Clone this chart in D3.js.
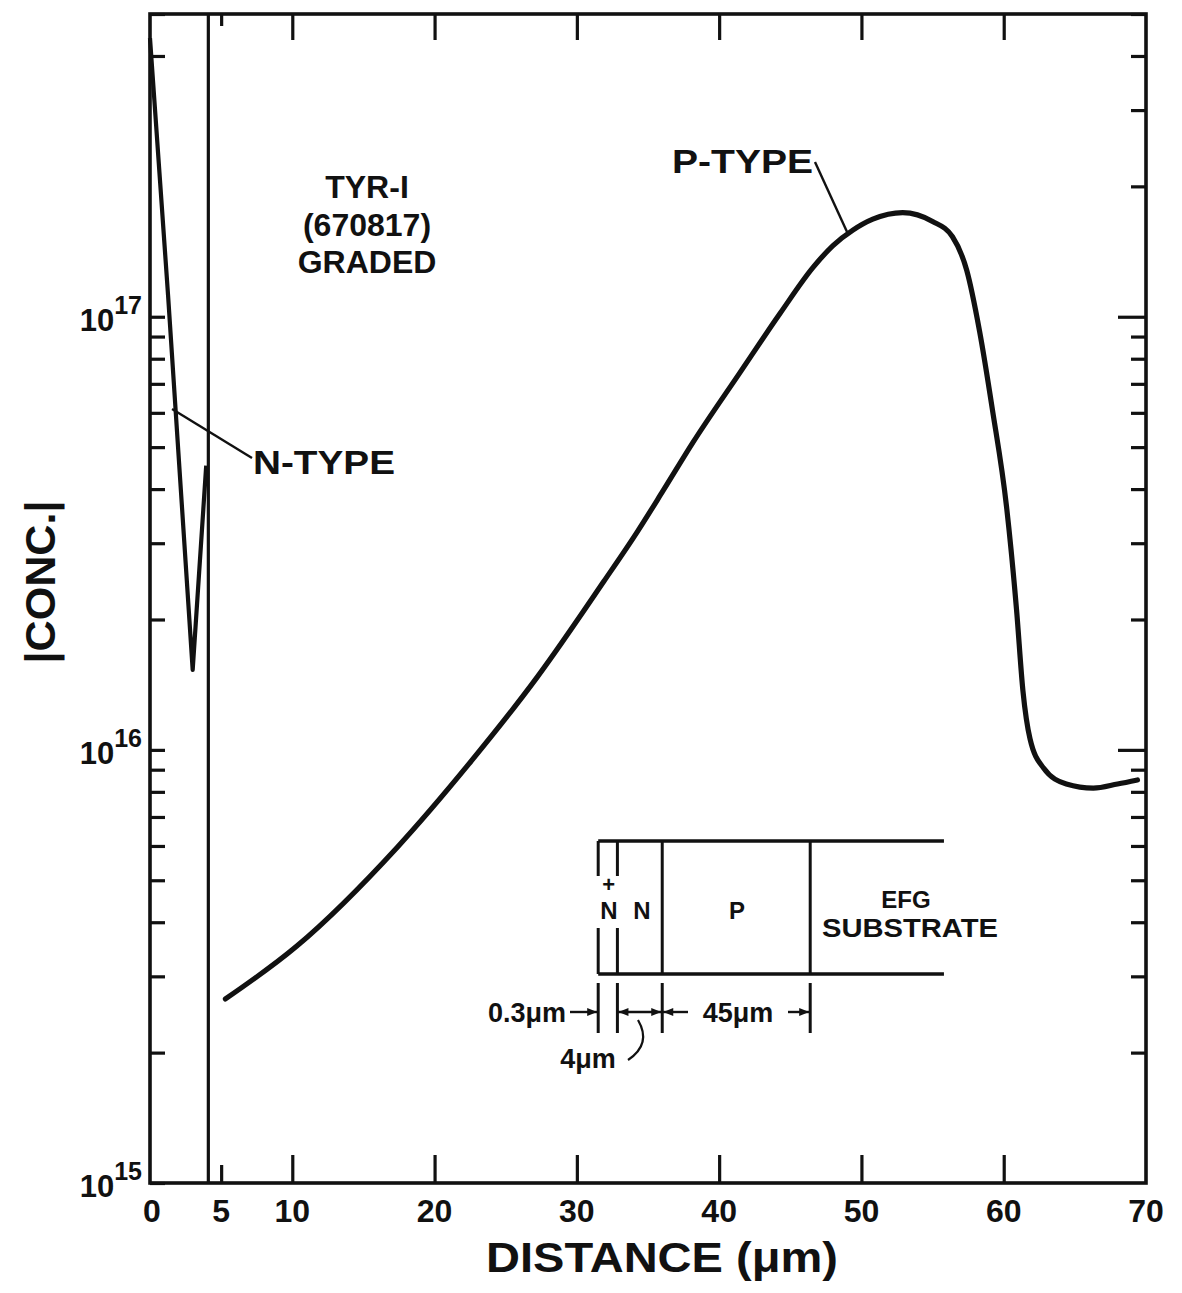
<!DOCTYPE html>
<html>
<head>
<meta charset="utf-8">
<script src="https://cdn.jsdelivr.net/npm/d3@7"></script>
<style>
  html, body { margin: 0; padding: 0; background: #ffffff; }
  svg { display: block; }
  text { font-family: "Liberation Sans", Arial, sans-serif; font-weight: bold; fill: #111; }
</style>
</head>
<body>
<svg id="chart" width="1182" height="1293"></svg>
<script>
// ---------------- data ----------------
const xDomain = [0, 70];
const yDomain = [1e15, 5e17];

// N-type region (µm, |conc| cm^-3)
const nTypeX    = [0, 1.27, 3.0, 3.95];
const nTypeConc = [4.4e17, 1.12e17, 1.53e16, 4.53e16];

// P-type region
const pTypeX = [5.3, 10.3, 17.4, 22.4, 27.2, 31.9, 34.2, 36.05, 38.15, 41.45, 44.3, 46.6,
                48.0, 49.4, 50.8, 52.9, 55.0, 56.4, 57.4, 58.3, 59.2, 60.2, 60.9, 61.35, 61.85,
                62.8, 64.4, 66.3, 68.0, 69.4];
const pTypeConc = [2.66e15, 3.52e15, 5.97e15, 9.27e15, 1.47e16, 2.45e16, 3.17e16, 3.96e16,
                   5.12e16, 7.42e16, 1.02e17, 1.30e17, 1.46e17, 1.585e17, 1.68e17, 1.74e17,
                   1.66e17, 1.53e17, 1.28e17, 9.27e16, 6.12e16, 3.64e16, 2.11e16, 1.37e16,
                   1.06e16, 9.08e15, 8.34e15, 8.16e15, 8.34e15, 8.52e15];

const junctionX = 4.1;

const xMajorTicks  = [0, 10, 20, 30, 40, 50, 60, 70];
const xMinorTicks  = [5];
const xTickLabels  = ["0", "10", "20", "30", "40", "50", "60", "70"];
const yDecadeExps  = [15, 16, 17];
const yMinorMults  = [2, 3, 4, 5, 6, 7, 8, 9];

const sampleTitle  = ["TYR-I", "(670817)", "GRADED"];
const xTitle = "DISTANCE (\u03bcm)";
const yTitle = "|CONC.|";

// ---------------- layout ----------------
const svg = d3.select("#chart");
const L = 150, R = 1146, T = 14, B = 1183;

const x = d3.scaleLinear().domain(xDomain).range([L, R]);
const y = d3.scaleLog().domain(yDomain).range([B, T]);

const majorY = yDecadeExps.map(e => Math.pow(10, e));
const minorY = [];
yDecadeExps.forEach(e => yMinorMults.forEach(m => {
  const v = m * Math.pow(10, e);
  if (v <= yDomain[1] + 1) minorY.push(v);
}));

function cleanAxis(g) {
  g.select(".domain").remove();
  g.selectAll(".tick line").attr("stroke", "#111").attr("stroke-width", 3.2);
}

// bottom axis (ticks pointing inward)
svg.append("g").attr("transform", `translate(0,${B})`)
  .call(d3.axisBottom(x).tickValues(xMajorTicks.filter(v => v > 0 && v < 70))
        .tickSize(-28).tickFormat(""))
  .call(cleanAxis);
svg.append("g").attr("transform", `translate(0,${B})`)
  .call(d3.axisBottom(x).tickValues(xMinorTicks).tickSize(-18).tickFormat(""))
  .call(cleanAxis);

// bottom labels
const allXLabels = xMajorTicks.map((v, i) => ({ v, t: xTickLabels[i] }))
  .concat(xMinorTicks.map(v => ({ v, t: String(v) })));
svg.append("g").selectAll("text").data(allXLabels).join("text")
  .attr("x", d => x(d.v) + (d.v === 0 ? 2 : 0))
  .attr("y", 1222)
  .attr("text-anchor", "middle")
  .attr("font-size", 32)
  .text(d => d.t);

// top axis
svg.append("g").attr("transform", `translate(0,${T})`)
  .call(d3.axisTop(x).tickValues(xMajorTicks.filter(v => v > 0 && v < 70))
        .tickSize(-26).tickFormat(""))
  .call(cleanAxis);
svg.append("g").attr("transform", `translate(0,${T})`)
  .call(d3.axisTop(x).tickValues(xMinorTicks).tickSize(-12).tickFormat(""))
  .call(cleanAxis);

// left axis ticks (inward)
svg.append("g").attr("transform", `translate(${L},0)`)
  .call(d3.axisLeft(y).tickValues(majorY.concat(minorY.filter(v => v < 1.5e17 || v > 3.5e17)))
        .tickSize(-15).tickFormat(""))
  .call(cleanAxis);

// right axis ticks (inward)
svg.append("g").attr("transform", `translate(${R},0)`)
  .call(d3.axisRight(y).tickValues(majorY.filter(v => v > yDomain[0])).tickSize(-28).tickFormat(""))
  .call(cleanAxis);
svg.append("g").attr("transform", `translate(${R},0)`)
  .call(d3.axisRight(y).tickValues(minorY).tickSize(-15).tickFormat(""))
  .call(cleanAxis);

// left labels 10^n
const yl = svg.append("g").selectAll("text").data(yDecadeExps).join("text")
  .attr("x", 142)
  .attr("y", e => y(Math.pow(10, e)) + 14)
  .attr("text-anchor", "end");
yl.append("tspan").attr("font-size", 31).text("10");
yl.append("tspan").attr("font-size", 25).attr("dy", -17).text(e => String(e));

// frame
svg.append("rect").attr("x", L).attr("y", T).attr("width", R - L).attr("height", B - T)
  .attr("fill", "none").attr("stroke", "#111").attr("stroke-width", 3.6);

// junction line
svg.append("line")
  .attr("x1", x(junctionX)).attr("x2", x(junctionX))
  .attr("y1", T).attr("y2", B)
  .attr("stroke", "#111").attr("stroke-width", 3.2);

// curves
const nData = nTypeX.map((v, i) => [v, nTypeConc[i]]);
const pData = pTypeX.map((v, i) => [v, pTypeConc[i]]);

svg.append("path").datum(nData)
  .attr("d", d3.line().x(d => x(d[0])).y(d => y(d[1])).curve(d3.curveLinear))
  .attr("fill", "none").attr("stroke", "#111").attr("stroke-width", 4.2)
  .attr("stroke-linejoin", "round");

svg.append("path").datum(pData)
  .attr("d", d3.line().x(d => x(d[0])).y(d => y(d[1])).curve(d3.curveMonotoneX))
  .attr("fill", "none").attr("stroke", "#111").attr("stroke-width", 5.2)
  .attr("stroke-linecap", "round");

// sample label
svg.append("g").selectAll("text").data(sampleTitle).join("text")
  .attr("x", 367)
  .attr("y", (d, i) => 198 + i * 37.5)
  .attr("text-anchor", "middle")
  .attr("font-size", 32)
  .text(d => d);

// P-TYPE label + leader
svg.append("text").attr("x", 672).attr("y", 173).attr("font-size", 34)
  .attr("textLength", 141).attr("lengthAdjust", "spacingAndGlyphs").text("P-TYPE");
svg.append("line").attr("x1", 815).attr("y1", 162)
  .attr("x2", x(49.0)).attr("y2", y(1.55e17) - 2)
  .attr("stroke", "#111").attr("stroke-width", 2.4);

// N-TYPE label + leader
svg.append("text").attr("x", 253).attr("y", 474).attr("font-size", 34)
  .attr("textLength", 142).attr("lengthAdjust", "spacingAndGlyphs").text("N-TYPE");
svg.append("line").attr("x1", x(1.55)).attr("y1", 409)
  .attr("x2", 252).attr("y2", 458)
  .attr("stroke", "#111").attr("stroke-width", 2.4);

// axis titles
svg.append("text").attr("x", 662).attr("y", 1272).attr("text-anchor", "middle")
  .attr("font-size", 42).attr("textLength", 352).attr("lengthAdjust", "spacingAndGlyphs")
  .text(xTitle);
svg.append("text").attr("transform", "translate(55,582) rotate(-90)")
  .attr("text-anchor", "middle").attr("font-size", 42)
  .attr("textLength", 163).attr("lengthAdjust", "spacingAndGlyphs")
  .text(yTitle);

// ---------------- inset: device cross-section ----------------
const ins = svg.append("g");
const bx0 = x(31.5), bx1 = x(32.85), bx2 = x(36.0), bx3 = x(46.4), bx4 = x(55.8);
const by0 = 841, by1 = 974;
const stroke = (sel, w) => sel.attr("stroke", "#111").attr("stroke-width", w).attr("fill", "none");

stroke(ins.append("line").attr("x1", bx0).attr("x2", bx4).attr("y1", by0).attr("y2", by0), 3.6);
stroke(ins.append("line").attr("x1", bx0).attr("x2", bx4).attr("y1", by1).attr("y2", by1), 3.6);
[bx0, bx1].forEach(xx => {
  stroke(ins.append("line").attr("x1", xx).attr("x2", xx).attr("y1", by0).attr("y2", 876), 3);
  stroke(ins.append("line").attr("x1", xx).attr("x2", xx).attr("y1", 928).attr("y2", by1), 3);
});
[bx2, bx3].forEach(xx => {
  stroke(ins.append("line").attr("x1", xx).attr("x2", xx).attr("y1", by0).attr("y2", by1), 3);
});

ins.append("text").attr("x", (bx0 + bx1) / 2 + 1).attr("y", 919).attr("text-anchor", "middle")
  .attr("font-size", 24).text("N");
ins.append("text").attr("x", (bx0 + bx1) / 2 + 1).attr("y", 892).attr("text-anchor", "middle")
  .attr("font-size", 22).text("+");
ins.append("text").attr("x", 642).attr("y", 919).attr("text-anchor", "middle")
  .attr("font-size", 24).text("N");
ins.append("text").attr("x", 737).attr("y", 919).attr("text-anchor", "middle")
  .attr("font-size", 24).text("P");
ins.append("text").attr("x", 906).attr("y", 908).attr("text-anchor", "middle")
  .attr("font-size", 24).text("EFG");
ins.append("text").attr("x", 910).attr("y", 937).attr("text-anchor", "middle")
  .attr("font-size", 25).attr("textLength", 176).attr("lengthAdjust", "spacingAndGlyphs")
  .text("SUBSTRATE");

// dimension lines
[bx0, bx1, bx2, bx3].forEach(xx => {
  stroke(ins.append("line").attr("x1", xx).attr("x2", xx).attr("y1", 983).attr("y2", 1033), 3);
});
const dimY = 1012;
function arrowHead(px, dir) { // dir: +1 points right, -1 points left
  ins.append("path")
    .attr("d", `M${px},${dimY} L${px - dir * 10},${dimY - 4} L${px - dir * 10},${dimY + 4} Z`)
    .attr("fill", "#111");
}
stroke(ins.append("line").attr("x1", 570).attr("x2", bx0).attr("y1", dimY).attr("y2", dimY), 2.4);
arrowHead(bx0 - 1, 1);
stroke(ins.append("line").attr("x1", bx1).attr("x2", bx2).attr("y1", dimY).attr("y2", dimY), 2.4);
arrowHead(bx1 + 1, -1);
arrowHead(bx2 - 1, 1);
stroke(ins.append("line").attr("x1", bx2).attr("x2", 688).attr("y1", dimY).attr("y2", dimY), 2.4);
arrowHead(bx2 + 1, -1);
stroke(ins.append("line").attr("x1", 788).attr("x2", bx3).attr("y1", dimY).attr("y2", dimY), 2.4);
arrowHead(bx3 - 1, 1);

ins.append("text").attr("x", 566).attr("y", 1022).attr("text-anchor", "end")
  .attr("font-size", 27).text("0.3\u03bcm");
ins.append("text").attr("x", 738).attr("y", 1022).attr("text-anchor", "middle")
  .attr("font-size", 27).text("45\u03bcm");
ins.append("text").attr("x", 588).attr("y", 1068).attr("text-anchor", "middle")
  .attr("font-size", 27).text("4\u03bcm");
stroke(ins.append("path").attr("d", "M638,1020 Q652,1044 628,1060"), 2.2);
</script>
</body>
</html>
